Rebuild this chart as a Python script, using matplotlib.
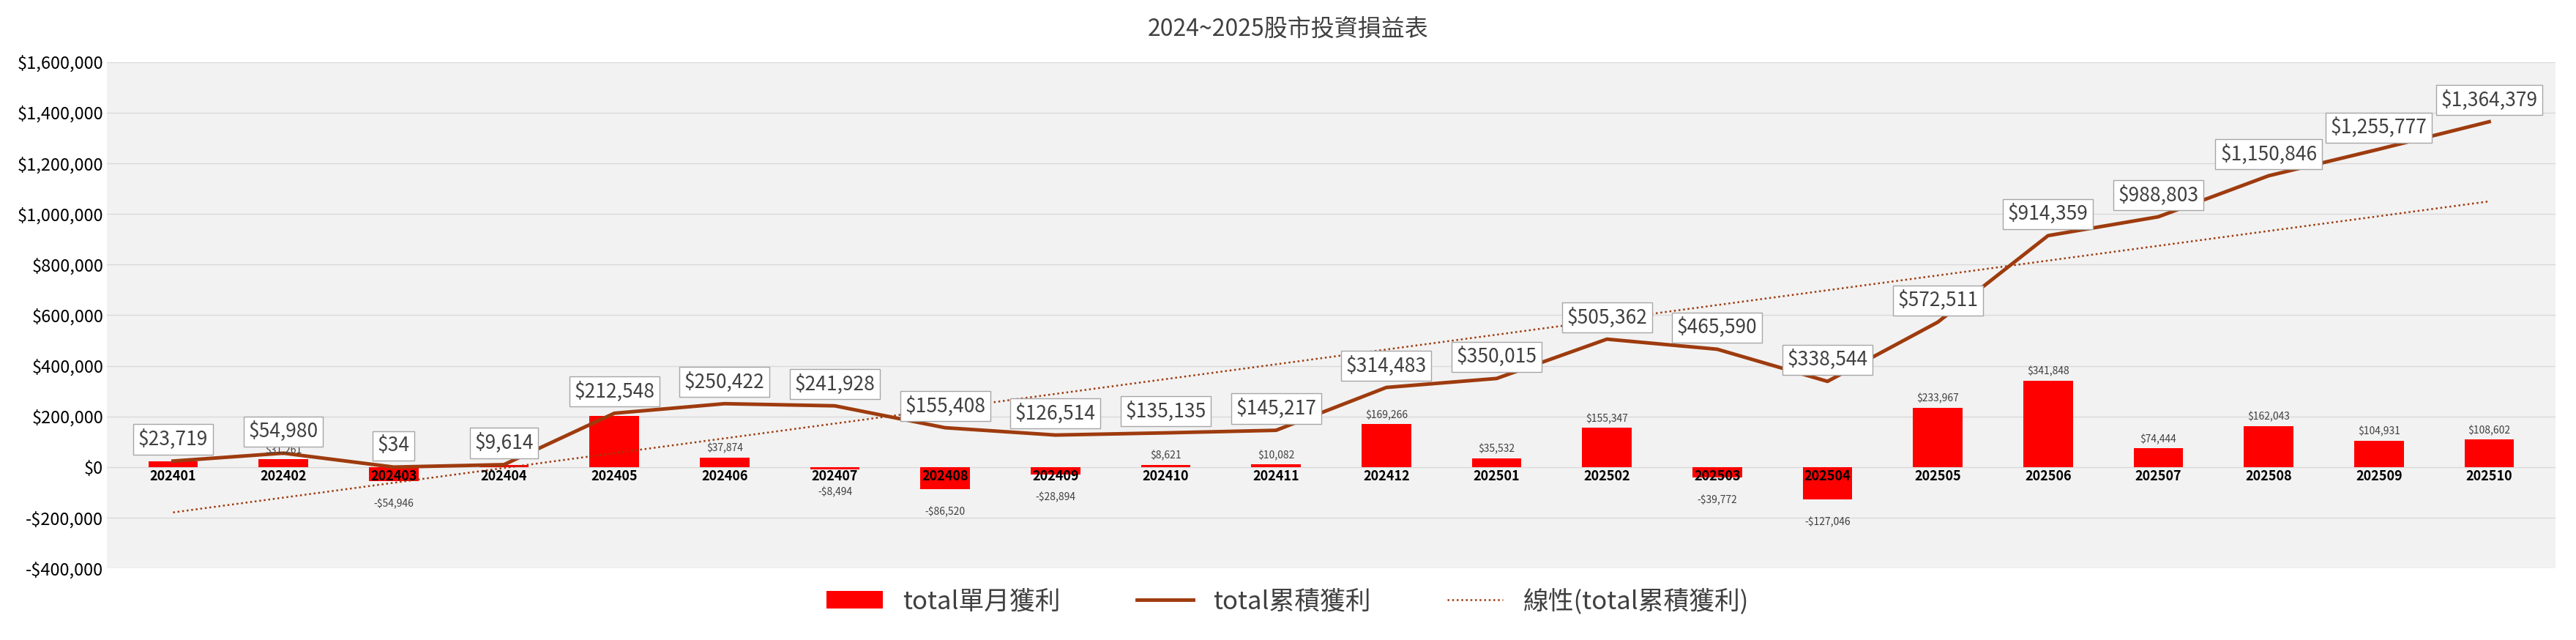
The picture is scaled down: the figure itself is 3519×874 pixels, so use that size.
import matplotlib
matplotlib.use("Agg")
import matplotlib.pyplot as plt
import numpy as np
from matplotlib.ticker import FuncFormatter

plt.rcParams['font.family'] = ['Noto Sans CJK TC', 'DejaVu Sans']

months = ["202401","202402","202403","202404","202405","202406","202407","202408","202409","202410","202411",
          "202412","202501","202502","202503","202504","202505","202506","202507","202508","202509","202510"]
monthly = [23719, 31261, -54946, 9580, 202934, 37874, -8494, -86520, -28894, 8621, 10082,
           169266, 35532, 155347, -39772, -127046, 233967, 341848, 74444, 162043, 104931, 108602]
cumulative = [23719, 54980, 34, 9614, 212548, 250422, 241928, 155408, 126514, 135135, 145217,
              314483, 350015, 505362, 465590, 338544, 572511, 914359, 988803, 1150846, 1255777, 1364379]
show_bar_label = [False, True, True, False, False, True, True, True, True, True, True,
                  True, True, True, True, True, True, True, True, True, True, True]

line_c = '#9e3b0e'
fig = plt.figure(figsize=(35.19, 8.74), dpi=100)
ax = fig.add_axes([0.0415, 0.112, 0.9505, 0.791])
ax.set_facecolor('#f2f2f2')
x = np.arange(len(months))
bars = ax.bar(x, monthly, width=0.45, color='#ff0000', label='total單月獲利', zorder=2)
l1, = ax.plot(x, cumulative, color=line_c, lw=3.5, label='total累積獲利', zorder=3)
coef = np.polyfit(x, cumulative, 1)
l2, = ax.plot(x, np.polyval(coef, x), color=line_c, lw=1.8, ls=(0, (1, 1.5)), label='線性(total累積獲利)', zorder=3)

ax.set_ylim(-400000, 1600000)
ax.set_xlim(-0.6, len(months) - 0.4)
ax.set_yticks(np.arange(-400000, 1600001, 200000))
ax.yaxis.set_major_formatter(FuncFormatter(lambda v, p: f"-${abs(v):,.0f}" if v < 0 else f"${v:,.0f}"))
ax.tick_params(axis='y', labelsize=17, length=0)
ax.set_xticks([])
ax.grid(axis='y', color='#d9d9d9', lw=1, zorder=0)
for s in ax.spines.values():
    s.set_visible(False)

for i, m in enumerate(months):
    ax.text(i, -8000, m, ha='center', va='top', fontsize=13, fontweight='bold', zorder=5)
for i, v in enumerate(monthly):
    if not show_bar_label[i]:
        continue
    if v >= 0:
        ax.text(i, v + 15000, f"${v:,}", ha='center', va='bottom', fontsize=10, color='#404040', zorder=5)
    else:
        ax.text(i, v - 70000, f"-${abs(v):,}", ha='center', va='top', fontsize=10, color='#404040', zorder=5)
for i, v in enumerate(cumulative):
    ax.text(i, v + 45000, f"${v:,}", ha='center', va='bottom', fontsize=19, color='#404040', zorder=6,
            bbox=dict(boxstyle='square,pad=0.25', fc='white', ec='#a6a6a6', lw=1))

fig.text(0.5, 0.955, '2024~2025股市投資損益表', ha='center', va='center', fontsize=23, color='#404040')
fig.legend([bars, l1, l2], ['total單月獲利', 'total累積獲利', '線性(total累積獲利)'],
           loc='center', bbox_to_anchor=(0.5, 0.06), ncol=3, frameon=False, fontsize=25,
           handlelength=2.2, columnspacing=3, labelcolor='#404040')
fig.savefig('out.png', dpi=100, facecolor='white')
